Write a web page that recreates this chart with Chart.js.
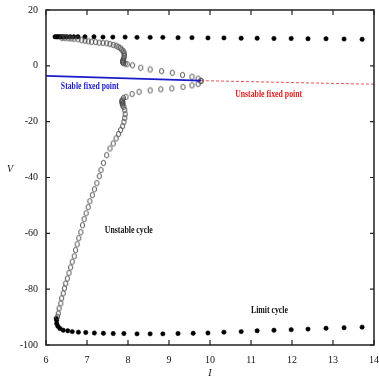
<!DOCTYPE html>
<html>
<head>
<meta charset="utf-8">
<script src="https://cdn.jsdelivr.net/npm/chart.js@4.4.1/dist/chart.umd.min.js"></script>
<style>
  html, body { margin: 0; padding: 0; background: #fff; }
  #wrap { width: 379px; height: 377px; }
</style>
</head>
<body>
<div id="wrap"><canvas id="chart"></canvas></div>
<script>
/**
 * Data (I vs V)
 */
const xTicks = [6, 7, 8, 9, 10, 11, 12, 13, 14];
const yTicks = [20, 0, -20, -40, -60, -80, -100];

// stable limit cycle, maximum of V (filled dots, top row)
const cycleMaxI = [6.22, 6.26, 6.29, 6.33, 6.37, 6.40, 6.45, 6.51, 6.59, 6.68, 6.78, 6.95, 7.17, 7.39, 7.63, 7.93, 8.22, 8.54, 8.85, 9.22, 9.56, 9.95, 10.34, 10.76, 11.15, 11.56, 11.98, 12.39, 12.83, 13.27, 13.71];
const cycleMaxV = [10.4, 10.4, 10.4, 10.4, 10.4, 10.4, 10.4, 10.4, 10.4, 10.4, 10.4, 10.4, 10.4, 10.3, 10.3, 10.3, 10.2, 10.2, 10.2, 10.1, 10.1, 10.0, 10.0, 9.9, 9.9, 9.8, 9.8, 9.7, 9.7, 9.6, 9.5];

// stable limit cycle, minimum of V (filled dots, bottom row)
const cycleMinI = [6.25, 6.26, 6.26, 6.29, 6.34, 6.42, 6.53, 6.64, 6.79, 6.97, 7.18, 7.40, 7.64, 7.90, 8.22, 8.54, 8.85, 9.22, 9.59, 9.95, 10.34, 10.76, 11.15, 11.56, 11.98, 12.39, 12.83, 13.27, 13.71];
const cycleMinV = [-90.5, -91.1, -92.3, -93.3, -94.1, -94.7, -94.9, -95.2, -95.4, -95.5, -95.7, -95.8, -95.9, -95.9, -96.0, -96.0, -96.0, -95.9, -95.8, -95.7, -95.4, -95.2, -94.9, -94.7, -94.5, -94.3, -94.0, -93.8, -93.6];

// unstable cycle, upper branch (open circles)
const unstableUpI = [6.39, 6.46, 6.54, 6.61, 6.68, 6.78, 6.87, 6.95, 7.03, 7.11, 7.21, 7.30, 7.39, 7.48, 7.56, 7.64, 7.71, 7.76, 7.81, 7.85, 7.88, 7.90, 7.91, 7.91, 7.90, 7.89, 7.87, 7.87, 7.87, 7.89, 7.93, 7.98, 8.11, 8.31, 8.54, 8.82, 9.08, 9.33, 9.56, 9.71, 9.78];
const unstableUpV = [10.0, 10.0, 9.9, 9.8, 9.7, 9.5, 9.2, 9.0, 8.8, 8.6, 8.5, 8.3, 8.2, 8.1, 7.8, 7.5, 7.2, 6.8, 6.4, 5.8, 5.3, 4.7, 4.1, 3.5, 2.9, 2.3, 1.9, 1.5, 1.3, 1.0, 0.8, 0.6, 0.2, -0.7, -1.3, -1.9, -2.5, -3.3, -3.9, -4.6, -5.4];

// unstable cycle, lower branch (open circles)
const unstableLowI = [6.28, 6.30, 6.32, 6.36, 6.38, 6.42, 6.45, 6.48, 6.52, 6.56, 6.60, 6.64, 6.69, 6.72, 6.76, 6.80, 6.85, 6.89, 6.93, 6.98, 7.03, 7.07, 7.13, 7.18, 7.24, 7.30, 7.34, 7.40, 7.48, 7.56, 7.64, 7.71, 7.77, 7.82, 7.87, 7.90, 7.92, 7.93, 7.92, 7.90, 7.88, 7.87, 7.86, 7.85, 7.85, 7.86, 7.89, 7.95, 8.10, 8.27, 8.54, 8.80, 9.07, 9.34, 9.56, 9.71, 9.78];
const unstableLowV = [-89.9, -88.7, -86.9, -85.1, -83.3, -81.5, -79.7, -78.0, -76.2, -74.2, -72.2, -70.2, -68.2, -66.0, -63.9, -61.7, -59.6, -57.1, -54.9, -52.8, -50.6, -48.5, -46.3, -44.2, -42.0, -39.5, -37.3, -34.8, -32.0, -29.6, -27.8, -26.0, -24.4, -23.0, -21.6, -20.1, -18.7, -17.3, -15.8, -14.7, -13.3, -14.2, -13.6, -13.0, -12.6, -12.3, -11.5, -11.1, -10.1, -9.3, -8.8, -8.4, -8.1, -7.6, -7.0, -6.5, -5.4];

// fixed point branches
const stableFpI = [6, 9.78];
const stableFpV = [-3.6, -5.3];
const unstableFpI = [9.78, 14];
const unstableFpV = [-5.3, -6.6];

/**
 * Helpers
 */
function toPoints(xs, ys) {
    return xs.map(function (x, i) { return {x: x, y: ys[i]}; });
}

// oval marker, the open circles in the figure are a bit taller than wide
function ovalMarker() {
    const c = document.createElement('canvas');
    c.width = 7;
    c.height = 8;
    const g = c.getContext('2d');
    g.strokeStyle = '#4a4a4a';
    g.lineWidth = 0.9;
    g.beginPath();
    g.ellipse(3.5, 4, 2.1, 2.7, 0, 0, Math.PI * 2);
    g.stroke();
    return c;
}

// no extra room for edge labels, the plot box is placed by layout.padding
function noScalePadding(scale) {
    scale.paddingLeft = 0;
    scale.paddingRight = 0;
    scale.paddingTop = 0;
    scale.paddingBottom = 0;
}

const serif = '"Liberation Serif", "DejaVu Serif", serif';

// text on the plot, placed in data coordinates
const notes = [
    {text: 'Stable fixed point', x: 7.07, y: -7.2, width: 58, color: '#1a1acc'},
    {text: 'Unstable fixed point', x: 11.43, y: -10.1, width: 67, color: '#e02020'},
    {text: 'Unstable cycle', x: 8.02, y: -58.9, width: 48, color: '#111'},
    {text: 'Limit cycle', x: 11.45, y: -87.5, width: 37, color: '#111'}
];

const framePlugin = {
    id: 'frame',
    afterDraw(chart) {
        const ctx = chart.ctx;
        const a = chart.chartArea;
        const xs = chart.scales.x;
        const ys = chart.scales.y;

        ctx.save();
        ctx.strokeStyle = '#222';
        ctx.lineWidth = 1.5;
        ctx.strokeRect(a.left, a.top, a.right - a.left, a.bottom - a.top);

        // inward ticks on all four sides
        ctx.lineWidth = 1.2;
        ctx.beginPath();
        xTicks.forEach(function (t) {
            const px = xs.getPixelForValue(t);
            ctx.moveTo(px, a.bottom); ctx.lineTo(px, a.bottom - 5);
            ctx.moveTo(px, a.top); ctx.lineTo(px, a.top + 5);
        });
        yTicks.forEach(function (t) {
            const py = ys.getPixelForValue(t);
            ctx.moveTo(a.left, py); ctx.lineTo(a.left + 4, py);
            ctx.moveTo(a.right, py); ctx.lineTo(a.right - 4, py);
        });
        ctx.stroke();

        // labels inside the plot, squeezed like the original
        ctx.font = 'bold 10px ' + serif;
        ctx.textAlign = 'center';
        ctx.textBaseline = 'middle';
        notes.forEach(function (n) {
            const w = ctx.measureText(n.text).width;
            ctx.save();
            ctx.translate(xs.getPixelForValue(n.x), ys.getPixelForValue(n.y));
            ctx.scale(n.width / w, 1);
            ctx.fillStyle = n.color;
            ctx.fillText(n.text, 0, 0);
            ctx.restore();
        });

        // axis titles
        ctx.font = 'italic 10px ' + serif;
        ctx.fillStyle = '#111';
        ctx.fillText('I', (a.left + a.right) / 2, a.bottom + 28);
        ctx.fillText('V', 10, ys.getPixelForValue(-37));
        ctx.restore();
    }
};

const open = ovalMarker();

new Chart(document.getElementById('chart'), {
    type: 'scatter',
    data: {
        datasets: [
            {
                data: toPoints(stableFpI, stableFpV),
                showLine: true,
                borderColor: '#1a1acc',
                borderWidth: 1.6,
                pointRadius: 0
            },
            {
                data: toPoints(unstableFpI, unstableFpV),
                showLine: true,
                borderColor: 'rgba(225,50,50,0.85)',
                borderWidth: 1,
                borderDash: [3, 2],
                pointRadius: 0
            },
            {
                data: toPoints(unstableUpI, unstableUpV),
                pointStyle: open,
                pointRadius: 3
            },
            {
                data: toPoints(unstableLowI, unstableLowV),
                pointStyle: open,
                pointRadius: 3
            },
            {
                data: toPoints(cycleMaxI, cycleMaxV),
                pointRadius: 2.2,
                pointBackgroundColor: '#000',
                pointBorderColor: '#000',
                pointBorderWidth: 0.5
            },
            {
                data: toPoints(cycleMinI, cycleMinV),
                pointRadius: 2.2,
                pointBackgroundColor: '#000',
                pointBorderColor: '#000',
                pointBorderWidth: 0.5
            }
        ]
    },
    options: {
        responsive: true,
        maintainAspectRatio: false,
        animation: false,
        layout: {autoPadding: false, padding: {top: 10, right: 5, left: 0, bottom: 0}},
        plugins: {legend: {display: false}, tooltip: {enabled: false}},
        scales: {
            x: {
                type: 'linear',
                min: 6,
                max: 14,
                afterBuildTicks(scale) { scale.ticks = xTicks.map(function (v) { return {value: v}; }); },
                afterFit(scale) { scale.height = 32; noScalePadding(scale); },
                grid: {display: false, drawTicks: false},
                border: {display: false},
                ticks: {color: '#111', padding: 9, font: {family: serif, size: 10}, maxRotation: 0}
            },
            y: {
                type: 'linear',
                min: -100,
                max: 20,
                afterBuildTicks(scale) { scale.ticks = yTicks.map(function (v) { return {value: v}; }); },
                afterFit(scale) { scale.width = 46; noScalePadding(scale); },
                grid: {display: false, drawTicks: false},
                border: {display: false},
                ticks: {color: '#111', padding: 8, font: {family: serif, size: 10}}
            }
        }
    },
    plugins: [framePlugin]
});
</script>
</body>
</html>
